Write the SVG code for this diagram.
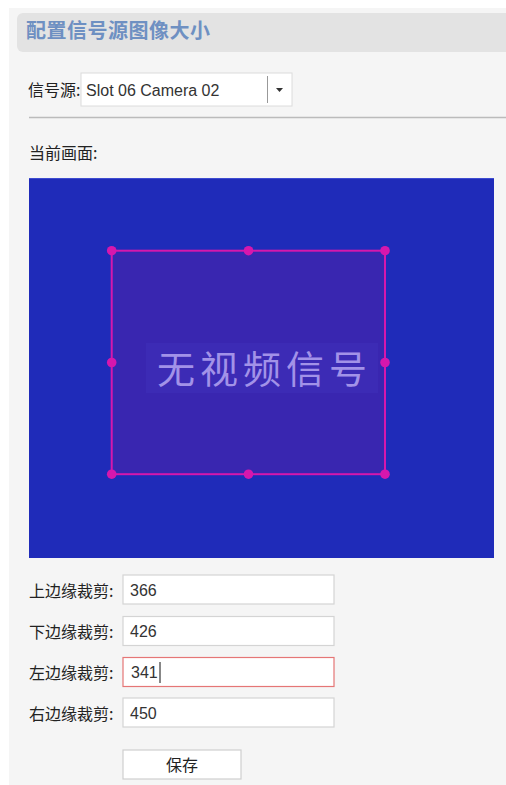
<svg xmlns="http://www.w3.org/2000/svg" width="506" height="785" viewBox="0 0 506 785">
<style>
.lbl{font-family:"Noto Sans CJK SC","Liberation Sans",sans-serif;font-size:16px;fill:#222}
.val{font-family:"Liberation Sans",Arial,sans-serif;font-size:16px;fill:#333}
.inp{fill:#fff;stroke:#d4d4d4;stroke-width:1.2}
.h{fill:#d617ad}
</style>
<rect x="0" y="0" width="506" height="785" fill="#fff"/>
<rect x="9" y="8" width="497" height="777" fill="#f5f5f5"/>
<g id="header">
<path d="M23 13 H506 V52 H23 A6 6 0 0 1 17 46 V19 A6 6 0 0 1 23 13 Z" fill="#e3e3e3"/>
<text x="26" y="38" font-family="'Noto Sans CJK SC',sans-serif" font-size="20" font-weight="bold" fill="#6e90c2" letter-spacing="0.5">配置信号源图像大小</text>
</g>
<g id="source">
<text class="lbl" x="28" y="96">信号源:</text>
<rect x="81" y="73" width="211" height="33" fill="#fff" stroke="#dcdcdc" stroke-width="1"/>
<line x1="267.5" y1="76" x2="267.5" y2="103" stroke="#999" stroke-width="1"/>
<path d="M276 88 H283 L279.5 92 Z" fill="#333"/>
<text class="val" x="86" y="96">Slot 06 Camera 02</text>
</g>
<line x1="29" y1="117.5" x2="506" y2="117.5" stroke="#bbb" stroke-width="1.5"/>
<text class="lbl" x="29" y="159">当前画面:</text>
<g id="preview">
<rect x="29" y="178" width="465" height="380" fill="#1f2bb9"/>
<line x1="29" y1="178.5" x2="494" y2="178.5" stroke="#3d4bd0" stroke-width="1"/>
<rect x="111.7" y="250.7" width="273.3" height="223.5" fill="#3926b0" stroke="#d617ad" stroke-width="2"/>
<rect x="146" y="343" width="232" height="50" fill="#3c2bb5"/>
<text x="157" y="383" font-family="'Noto Sans CJK SC',sans-serif" font-size="38" fill="#a292e8" letter-spacing="5">无视频信号</text>
<circle class="h" cx="111.7" cy="250.7" r="4.8"/>
<circle class="h" cx="248.5" cy="250.7" r="4.8"/>
<circle class="h" cx="385" cy="250.7" r="4.8"/>
<circle class="h" cx="111.7" cy="362.5" r="4.8"/>
<circle class="h" cx="385" cy="362.5" r="4.8"/>
<circle class="h" cx="111.7" cy="474.2" r="4.8"/>
<circle class="h" cx="248.5" cy="474.2" r="4.8"/>
<circle class="h" cx="385" cy="474.2" r="4.8"/>
</g>
<g id="top">
<text class="lbl" x="29" y="597">上边缘裁剪:</text>
<rect class="inp" x="123" y="575" width="211" height="29"/>
<text class="val" x="130" y="596">366</text>
</g>
<g id="bottom">
<text class="lbl" x="29" y="638">下边缘裁剪:</text>
<rect class="inp" x="123" y="616.5" width="211" height="29"/>
<text class="val" x="130" y="637">426</text>
</g>
<g id="left">
<text class="lbl" x="29" y="679">左边缘裁剪:</text>
<rect x="123" y="657.5" width="211" height="29" fill="#fff" stroke="#e57676" stroke-width="1.2"/>
<text class="val" x="131" y="678">341</text>
<line x1="160" y1="662" x2="160" y2="683" stroke="#111" stroke-width="1"/>
</g>
<g id="right">
<text class="lbl" x="29" y="720">右边缘裁剪:</text>
<rect class="inp" x="123" y="698" width="211" height="29"/>
<text class="val" x="130" y="719">450</text>
</g>
<g id="save">
<rect x="123" y="750" width="118" height="29" fill="#fff" stroke="#cfcfcf" stroke-width="1.2"/>
<text class="lbl" x="182" y="771" text-anchor="middle">保存</text>
</g>
</svg>
